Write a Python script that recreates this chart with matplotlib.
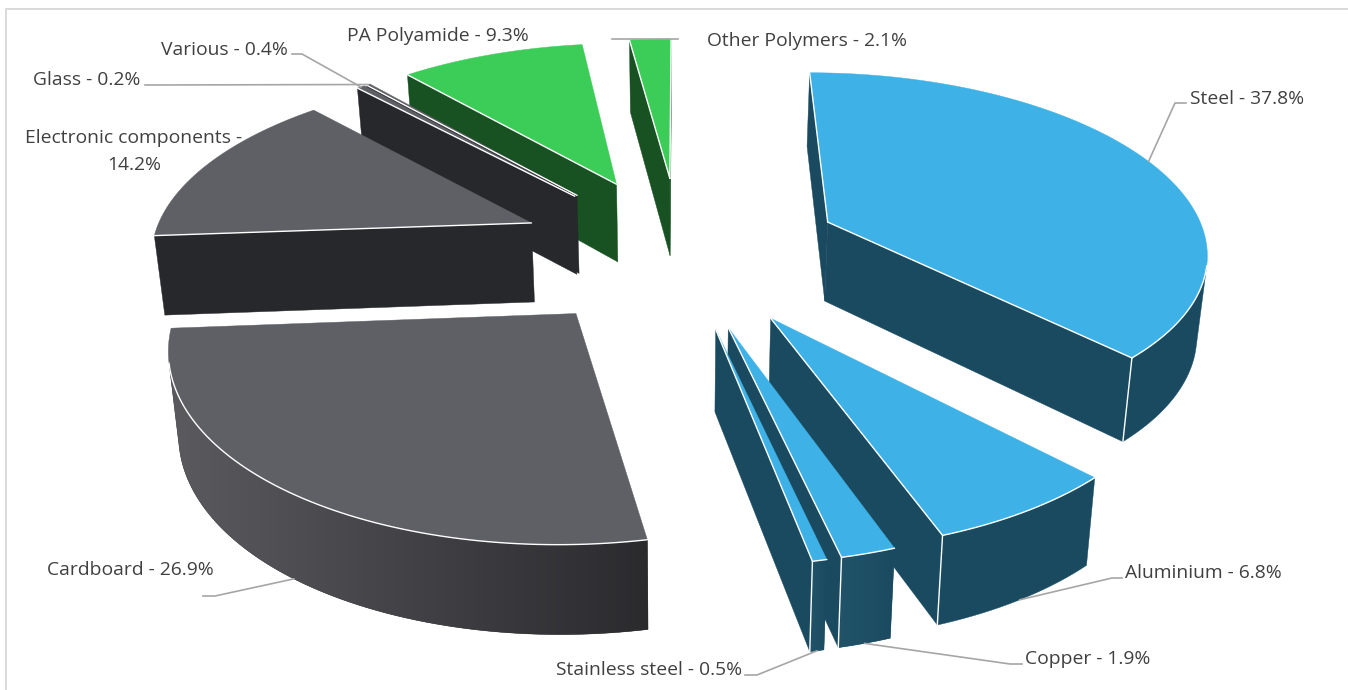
import numpy as np
import matplotlib
matplotlib.use('Agg')
import matplotlib.pyplot as plt
from matplotlib.colors import to_rgb
from matplotlib.patches import Polygon

plt.rcParams['font.family'] = ['Open Sans', 'DejaVu Sans']

# data, clockwise from 12 o'clock
materials = ['Steel', 'Aluminium', 'Copper', 'Stainless steel', 'Cardboard',
             'Electronic components', 'Various', 'Glass', 'PA Polyamide', 'Other Polymers']
shares = [37.8, 6.8, 1.9, 0.5, 26.9, 14.2, 0.4, 0.2, 9.3, 2.1]

# colours for each slice: top face, flat walls, rim wall light end, rim wall dark end
BLUE = ('#3EB1E6', '#1A4A60', '#1A4A60', '#1A4A60')
BLUE_GRAD = ('#3EB1E6', '#1A4A60', '#215469', '#1A4A60')
DARK = ('#5F6066', '#26282B', '#26282B', '#26282B')
GRAY = ('#5F6066', '#26282B', '#5A5A5F', '#2B2B2E')
GREEN = ('#3CCD58', '#185222', '#185222', '#185222')
slice_colors = [BLUE, BLUE, BLUE_GRAD, BLUE_GRAD, GRAY, DARK, DARK, DARK, GREEN, GREEN]

# camera, worked out from the reference picture
CX, HORIZON, DIST = 680, -1000, 1250
SCALE_X, PERSP = 388, 0.145
EXPLODE = 0.42
RADIUS = 0.982
DEPTH = 80
SHRINK = 0.98
FONT = 13.9
INK = '#404040'


def project(u, v, bottom=False):
    w = 1 + PERSP * v
    x = CX + SCALE_X * u / w
    y = HORIZON + DIST / w
    if bottom:
        x = CX + (x - CX) * SHRINK
        y = y + DEPTH / w ** 0.55
    return x, y


def wall_faces_us(p, q, pb, qb):
    xs = [p[0], q[0], qb[0], pb[0]]
    ys = [p[1], q[1], qb[1], pb[1]]
    area = sum(xs[i] * ys[(i + 1) % 4] - xs[(i + 1) % 4] * ys[i] for i in range(4))
    return area < -1e-6


edges = np.concatenate([[0], np.cumsum(shares)]) / sum(shares) * 2 * np.pi
slices = []
for i in range(len(shares)):
    mid = (edges[i] + edges[i + 1]) / 2
    off_u, off_v = EXPLODE * np.sin(mid), EXPLODE * np.cos(mid)
    angs = np.linspace(edges[i], edges[i + 1], max(int(shares[i] * 3), 3))
    slices.append(dict(i=i, mid=mid, off=(off_u, off_v), angs=angs))

fig = plt.figure(figsize=(13.48, 6.9), dpi=100)
ax = fig.add_axes([0, 0, 1, 1])
ax.axis('off')

# chart frame, only top and left are in the crop
ax.plot([6, 6, 1348], [690, 9, 9], color='#D9D9D9', lw=1.4, zorder=1)

# far slices first
z = 2
for s in sorted(slices, key=lambda d: -np.cos(d['mid'])):
    top, wall, rim_a, rim_b = slice_colors[s['i']]
    ou, ov = s['off']
    us = ou + RADIUS * np.sin(s['angs'])
    vs = ov + RADIUS * np.cos(s['angs'])
    apex_t, apex_b = project(ou, ov), project(ou, ov, True)
    rim_t = [project(a, b) for a, b in zip(us, vs)]
    rim_low = [project(a, b, True) for a, b in zip(us, vs)]

    # the two straight walls
    white = []
    start_seen = wall_faces_us(apex_t, rim_t[0], apex_b, rim_low[0])
    end_seen = wall_faces_us(rim_t[-1], apex_t, rim_low[-1], apex_b)
    if start_seen:
        ax.add_patch(Polygon([apex_t, rim_t[0], rim_low[0], apex_b], closed=True,
                             fc=wall, ec=wall, lw=0.3, zorder=z))
        white.append([apex_t, rim_t[0]])
    if end_seen:
        ax.add_patch(Polygon([rim_t[-1], apex_t, apex_b, rim_low[-1]], closed=True,
                             fc=wall, ec=wall, lw=0.3, zorder=z))
        white.append([rim_t[-1], apex_t])

    # rim wall, one outline with a left to right shading clipped into it
    seen = [k for k in range(len(rim_t) - 1)
            if wall_faces_us(rim_t[k], rim_t[k + 1], rim_low[k], rim_low[k + 1])]
    if seen:
        keep = seen + [seen[-1] + 1]
        outline = [rim_t[k] for k in keep] + [rim_low[k] for k in keep[::-1]]
        px = [p[0] for p in outline]
        py = [p[1] for p in outline]
        shape = Polygon(outline, closed=True, fc=rim_b, ec=rim_b, lw=0.3, zorder=z)
        ax.add_patch(shape)
        if rim_a != rim_b:
            ramp = np.linspace(np.array(to_rgb(rim_a)), np.array(to_rgb(rim_b)), 128)[None, :, :]
            im = ax.imshow(ramp, extent=(min(px), max(px), max(py), min(py)),
                           aspect='auto', interpolation='bilinear', zorder=z)
            im.set_clip_path(shape)
        white.append([rim_t[k] for k in keep])
        if start_seen and seen[0] == 0:
            white.append([rim_t[0], rim_low[0]])
        if end_seen and keep[-1] == len(rim_t) - 1:
            white.append([rim_t[-1], rim_low[-1]])

    ax.add_patch(Polygon([apex_t] + rim_t, closed=True, fc=top, ec=top, lw=0.3, zorder=z))
    for line in white:
        lx, ly = zip(*line)
        ax.plot(lx, ly, color='white', lw=1.0, solid_capstyle='round', zorder=z)
    z += 1


def rim_anchor(name, bottom):
    s = slices[materials.index(name)]
    u = s['off'][0] + RADIUS * np.sin(s['mid'])
    v = s['off'][1] + RADIUS * np.cos(s['mid'])
    return project(u, v, bottom)


# leader lines: slice, anchor on lower edge?, elbow, end
leaders = [
    ('Steel', False, (1175, 103), (1186, 103)),
    ('Aluminium', True, (1112, 578), (1122, 578)),
    ('Copper', True, (1010, 664), (1022, 664)),
    ('Stainless steel', True, (757, 675), (745, 675)),
    ('Cardboard', True, (215, 596), (203, 596)),
    ('Glass', False, (150, 85), (145, 85)),
    ('Various', False, (302, 54), (292, 54)),
]
for name, low, elbow, end in leaders:
    a = rim_anchor(name, low)
    ax.plot([a[0], elbow[0], end[0]], [a[1], elbow[1], end[1]],
            color='#A6A6A6', lw=1.2, zorder=z + 1)
ax.plot([612, 678], [39, 39], color='#A6A6A6', lw=1.2, zorder=z + 1)

# labels built from the data
labels = [
    ('Steel', 1190, 99, 'left'),
    ('Aluminium', 1125, 573, 'left'),
    ('Copper', 1025, 659, 'left'),
    ('Stainless steel', 742, 670, 'right'),
    ('Cardboard', 47, 570, 'left'),
    ('Various', 161, 50, 'left'),
    ('Glass', 33, 80, 'left'),
    ('PA Polyamide', 347, 36, 'left'),
    ('Other Polymers', 707, 41, 'left'),
]
for name, x, y, ha in labels:
    pct = shares[materials.index(name)]
    ax.text(x, y, f'{name} - {pct}%', ha=ha, va='center', fontsize=FONT, color=INK, zorder=z + 2)
pct = shares[materials.index('Electronic components')]
ax.text(134, 138, 'Electronic components -', ha='center', va='center', fontsize=FONT,
        color=INK, zorder=z + 2)
ax.text(134, 165, f'{pct}%', ha='center', va='center', fontsize=FONT, color=INK, zorder=z + 2)

ax.set_xlim(0, 1348)
ax.set_ylim(690, 0)
fig.savefig('out.png', dpi=100, facecolor='white')
